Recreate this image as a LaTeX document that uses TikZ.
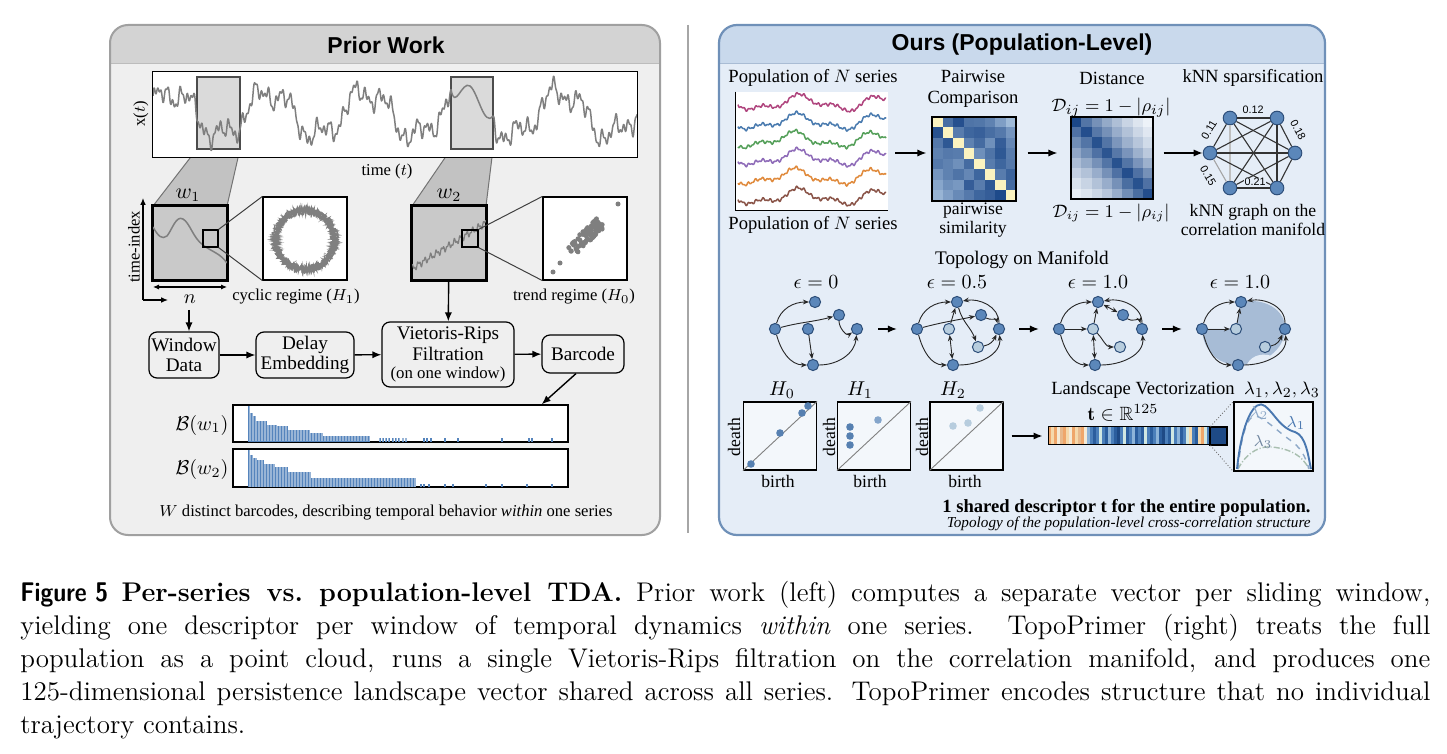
\documentclass[tikz,border=0pt]{standalone}
\usepackage{amsmath,amssymb}
\usepackage{graphicx}
\usepackage{fontspec}
\usetikzlibrary{arrows.meta,calc}
\newfontfamily\hfont{Liberation Sans}
\newfontfamily\sfont{Liberation Serif}
\newcommand{\fsz}[2]{\fontsize{#1}{#2}\selectfont}
\definecolor{lpbg}{HTML}{EFEFEF}
\definecolor{lphead}{HTML}{D3D3D3}
\definecolor{lpborder}{HTML}{A0A0A0}
\definecolor{rpbg}{HTML}{E5EDF7}
\definecolor{rphead}{HTML}{C9D9EC}
\definecolor{rpborder}{HTML}{6F90B8}
\definecolor{winfill}{HTML}{DADADA}
\definecolor{trapfill}{HTML}{C2C2C2}
\definecolor{wboxfill}{HTML}{C9C9C9}
\definecolor{siggray}{HTML}{7F7F7F}
\definecolor{barblue}{HTML}{5584BC}
\definecolor{nblue}{HTML}{5B87BA}
\definecolor{nedge}{HTML}{2E4F7A}
\definecolor{nlight}{HTML}{B7CDDE}
\definecolor{shadeblue}{HTML}{A7BCD6}
\definecolor{mD}{HTML}{1B4788}
\definecolor{mL}{HTML}{BCD3EA}
\definecolor{mW}{HTML}{F3F7FB}
\definecolor{myel}{HTML}{FBF3C0}
\definecolor{vo}{HTML}{EFA66A}
\definecolor{vb}{HTML}{F5D9AC}
\definecolor{vp}{HTML}{F4EAD6}
\definecolor{vs}{HTML}{E8B98C}
\definecolor{vd}{HTML}{2B5E9E}
\definecolor{vm}{HTML}{4B7FBA}
\definecolor{vl}{HTML}{8DB4D9}
\definecolor{vc}{HTML}{D0E7E2}
\definecolor{vn}{HTML}{1E4A86}
\definecolor{sA}{HTML}{B0457E}
\definecolor{sB}{HTML}{4A7BAF}
\definecolor{sC}{HTML}{55A05A}
\definecolor{sD}{HTML}{8E6BB8}
\definecolor{sE}{HTML}{E08A3C}
\definecolor{sF}{HTML}{8A5448}
\definecolor{lamA}{HTML}{4A78B0}
\definecolor{lamB}{HTML}{8EA9C8}
\definecolor{lamC}{HTML}{A9BFB0}
\tikzset{
  lab/.style={font=\sfont\fsz{8.3}{9.5}, inner sep=0.5pt},
  hdr/.style={font=\sfont\fsz{9.3}{10.4}, inner sep=0.5pt, align=center},
  sub/.style={font=\sfont\fsz{8.8}{9.8}, inner sep=0.5pt, align=center},
  flowbox/.style={draw, rounded corners=4pt, fill=lpbg, align=center, font=\sfont\fsz{9.6}{10.2}, inner sep=1pt, line width=0.6pt},
  arr/.style={-{Latex[length=4.5pt,width=3.6pt]}, line width=0.7pt},
  sarr/.style={-{Latex[length=3.4pt,width=2.8pt]}, line width=0.6pt},
  garr/.style={-{Stealth[length=3pt,width=2.4pt]}, line width=0.45pt, draw=black!85},
  gdbl/.style={{Stealth[length=3pt,width=2.4pt]}-{Stealth[length=3pt,width=2.4pt]}, line width=0.45pt, draw=black!85},
  gdark/.style={circle, draw=nedge, fill=nblue, line width=0.5pt, minimum size=5.6pt, inner sep=0pt},
  glight/.style={gdark, fill=nlight},
  knode/.style={circle, draw=nedge, fill=nblue, line width=0.5pt, minimum size=6.8pt, inner sep=0pt},
  kedge/.style={line width=0.55pt, draw=black!80},
  klab/.style={font=\hfont\fsz{5.4}{6}, inner sep=0.2pt},
  pdbox/.style={draw, line width=0.6pt, fill=white!55!rpbg, minimum width=36.5pt, minimum height=34pt, inner sep=0pt},
  pdpt/.style={fill=nblue!95!black},
  sig/.style={siggray, line width=0.75pt, line join=round},
  zbox/.style={draw, line width=0.6pt, fill=white, inner sep=0pt},
  wbox/.style={draw, line width=1.1pt, fill=wboxfill, inner sep=0pt, minimum size=37pt},
  bcbox/.style={draw, line width=0.7pt, inner sep=0pt, minimum width=167.5pt, minimum height=18.5pt}
}
\begin{document}
\begin{tikzpicture}[x=0.5pt,y=-0.5pt,
  declare function={sig(\t)=114-(22*sin(3.7*(\t-153)+20)+9*sin(11*(\t-153)+40)+6*sin(29*(\t-153)+10)+4*sin(52.94*mod(\t-153,6.8)+70)+3*sin(97.3*mod(\t-153,3.7)));}]
\fill[white] (0,0) rectangle (1447,754);
\useasboundingbox (0,0) rectangle (1447,754);

%================ LEFT PANEL =================
\begin{scope}
\clip[rounded corners=9] (110,25) rectangle (660,535);
\fill[lpbg] (110,25) rectangle (660,535);
\fill[lphead] (110,25) rectangle (660,63);
\draw[lpborder!70, line width=0.4pt] (110,63) -- (660,63);
\end{scope}
\draw[lpborder, line width=1pt, rounded corners=9] (110,25) rectangle (660,535);
\node[font=\hfont\bfseries\fsz{11.5}{13}] (ltitle) at (386,45) {Prior Work};

% separator
\draw[black!35, line width=0.8pt] (688,25) -- (688,533);

% trapezoids
\fill[trapfill] (197,149) -- (240,149) -- (227,206) -- (153,206) -- cycle;
\draw[black!55, line width=0.5pt] (197,149) -- (153,206) (240,149) -- (227,206);
\fill[trapfill] (451,149) -- (493,149) -- (486,206) -- (412,206) -- cycle;
\draw[black!55, line width=0.5pt] (451,149) -- (412,206) (493,149) -- (486,206);

% time series
\node[fill=white, minimum width=242pt, minimum height=42.5pt, inner sep=0] (ts) at (395,114.5) {};
\fill[winfill] (197,77) rectangle (240,149);
\fill[winfill] (451,77) rectangle (493,149);
\draw[black!70, line width=0.6pt] (197,77) rectangle (240,149);
\draw[black!70, line width=0.6pt] (451,77) rectangle (493,149);
\pgfmathsetmacro\ya{sig(451)}
\pgfmathsetmacro\yb{sig(493)}
\begin{scope}
\clip (153,74) rectangle (637,155);
\draw[sig] plot[variable=\t,domain=153:451,samples=597] (\t,{sig(\t)});
\draw[sig] (451,\ya) .. controls (455,112) and (462,80) .. (470,86) .. controls (478,92) and (484,128) .. (493,\yb);
\draw[sig] plot[variable=\t,domain=493:637,samples=289] (\t,{sig(\t)});
\end{scope}
\draw[line width=0.7pt] (ts.north west) rectangle (ts.south east);
\node[lab, rotate=90] (xt) at (141,114) {x($t$)};
\node[lab] (tt) at (387,172) {time ($t$)};

% window 1
\node[wbox] (w1b) at (190,243) {};
\begin{scope}
\clip (153,206) rectangle (227,280);
\draw[sig] (153,227) .. controls (158,236) and (162,240) .. (167,236) .. controls (172,230) and (176,215) .. (183,219) .. controls (190,223) and (193,238) .. (203,245) .. controls (212,252) and (220,253) .. (227,263);
\end{scope}
\draw[line width=1.1pt] (w1b.north west) rectangle (w1b.south east);
\node[font=\fsz{10.5}{11}, inner sep=0] (w1l) at (188,195) {$w_1$};
\node[draw, line width=0.6pt, minimum width=7.5pt, minimum height=8.5pt, inner sep=0] (sq1) at (210.5,238.5) {};
\node[zbox, minimum width=42pt, minimum height=41.5pt] (z1) at (305,238.5) {};
\draw[black!75, line width=0.5pt] (sq1.north east) -- (z1.north west) (sq1.south east) -- (z1.south west);
\pgfmathsetseed{7}
\foreach \k in {1,...,6}{
  \draw[siggray, line width=0.5pt] plot[variable=\a, domain=0:360, samples=240] ({305+(29.5+4.5*rand)*cos(\a)},{240+(29.5+4.5*rand)*sin(\a)});
}
\node[lab] (cyc) at (296,297) {cyclic regime ($H_1$)};

% axes for window 1
\coordinate (ax0) at (143,300);
\coordinate (axT) at (143,198);
\coordinate (axR) at (168,300);
\draw[sarr] (ax0) -- (axT);
\draw[sarr] (ax0) -- (axR);
\node[lab, rotate=90] (tix) at (134,247) {time-index};
\coordinate (nL) at (153,287);
\coordinate (nR) at (227,287);
\draw[{Latex[length=3pt,width=2.6pt]}-{Latex[length=3pt,width=2.6pt]}, line width=0.55pt] (nL) -- (nR);
\node[font=\fsz{10}{11}, inner sep=0] (nlab) at (190,299) {$n$};

% window 2
\node[wbox] (w2b) at (449,243) {};
\begin{scope}
\clip (412,206) rectangle (486,280);
\draw[sig, line width=0.6pt] plot[variable=\t,domain=412:486,samples=220] (\t,{268-(\t-413)*0.62+2.5*sin(60*mod(\t,6))+1.6*sin(136.9*mod(\t,2.63))});
\end{scope}
\draw[line width=1.1pt] (w2b.north west) rectangle (w2b.south east);
\node[font=\fsz{10.5}{11}, inner sep=0] (w2l) at (449,195) {$w_2$};
\node[draw, line width=0.6pt, minimum width=8pt, minimum height=8.5pt, inner sep=0] (sq2) at (470,238.5) {};
\node[zbox, minimum width=42pt, minimum height=41.5pt] (z2) at (585,238.5) {};
\draw[black!75, line width=0.5pt] (sq2.north east) -- (z2.north west) (sq2.south east) -- (z2.south west);
\pgfmathsetseed{11}
\foreach \i in {1,...,85}{
  \pgfmathsetmacro\u{rand*15}\pgfmathsetmacro\w{rand*6}
  \fill[siggray] ({586+\u+0.7*\w},{237-\u*0.95+0.75*\w}) circle (1.25pt);
}
\fill[siggray] (553,272) circle (1.25pt) (560,263) circle (1.25pt) (618,204) circle (1.25pt);
\node[lab] (trd) at (574,297) {trend regime ($H_0$)};

% flow boxes
\node[flowbox, minimum width=35pt, minimum height=23pt] (wd) at (184,355) {Window\\Data};
\node[flowbox, minimum width=49pt, minimum height=23pt] (de) at (305,355) {Delay\\Embedding};
\node[flowbox, minimum width=66pt, minimum height=32.5pt] (vr) at (448,354.5) {Vietoris-Rips\\Filtration\\[-1pt]{\fsz{8.4}{9}(on one window)}};
\node[flowbox, minimum width=41pt, minimum height=19pt] (bc) at (583,354) {Barcode};
\coordinate (na) at (189,310);
\draw[arr] (na) -- (na |- wd.north);
\draw[arr] (w2b) -- (vr);
\draw[arr] (wd) -- (de);
\draw[arr] (de) -- (vr);
\draw[arr] (vr) -- (bc);

% barcodes
\node[bcbox, fill=white] (b1) at (400.5,423.5) {};
\node[bcbox, fill=white] (b2) at (400.5,468) {};
\draw[arr] ([xshift=-3.5pt]bc.south) -- ([xshift=-13.5pt]b1.north east);
\foreach \a/\b/\h in {248/250/36, 250/253/29, 253/256/26, 256/267/21, 267/277/17, 277/288/15.5, 288/310/12.3, 310/323/9, 323/370/5.7}{
  \fill[barblue] (\a,442) rectangle (\b,{442-\h});
}
\foreach \x in {379,382,385,388,392,395,398,402,405,423,426,430,444,457,501,528,531,551}{
  \fill[barblue] (\x,442) rectangle ++(1.5,-4);
}
\foreach \a/\b/\h in {248/250/37, 250/253/32, 253/257/29, 257/264/27, 264/275/23, 275/288/20, 288/311/15, 311/416/9.3}{
  \fill[barblue] (\a,487) rectangle (\b,{487-\h});
}
\foreach \x in {420,423,428,444,452,485,501,526,551}{
  \fill[barblue] (\x,487) rectangle ++(1.5,-3.5);
}
\foreach \x in {248.7,250.2,...,416}{
  \draw[white, opacity=0.4, line width=0.2pt] (\x,406) -- (\x,441.5) (\x,450) -- (\x,486.5);
}
\draw[line width=0.7pt] (b1.north west) rectangle (b1.south east);
\draw[line width=0.7pt] (b2.north west) rectangle (b2.south east);
\node[font=\fsz{10}{11}, inner sep=0] (b1l) at (202,425) {$\mathcal{B}(w_1)$};
\node[font=\fsz{10}{11}, inner sep=0] (b2l) at (202,469) {$\mathcal{B}(w_2)$};
\node[font=\sfont\fsz{8.3}{9.5}, inner sep=0] (lfoot) at (386,513) {$W$ distinct barcodes, describing temporal behavior \emph{within} one series};

%================ RIGHT PANEL =================
\begin{scope}
\clip[rounded corners=9] (719,25) rectangle (1325,535);
\fill[rpbg] (719,25) rectangle (1325,535);
\fill[rphead] (719,25) rectangle (1325,63);
\draw[rpborder!60, line width=0.4pt] (719,63) -- (1325,63);
\end{scope}
\draw[rpborder, line width=1.1pt, rounded corners=9] (719,25) rectangle (1325,535);
\node[font=\hfont\bfseries\fsz{11.5}{13}] (rtitle) at (1022,45) {Ours (Population-Level)};

% population plot
\node[hdr] (popT) at (813,78) {Population of $N$ series};
\node[fill=white, minimum width=76pt, minimum height=59pt, inner sep=0] (pp) at (812,151) {};
\foreach \yy/\cc/\ph in {103/sA/0, 122/sB/15, 140/sC/30, 158/sD/10, 177/sE/25, 197/sF/5}{
  \draw[\cc, line width=0.75pt, line join=round] plot[variable=\t, domain=738:886, samples=200]
   (\t,{\yy+6*sin(4.3*(\t-738)+\ph)+3.2*sin(10*(\t-738)+30+\ph)+1.1*sin(53*(\t-738)+\ph*3)+0.8*sin(97*(\t-738))});
}
\draw[line width=0.7pt] (pp.north west) -- (pp.south west) -- (pp.south east);
\node[hdr] (popB) at (813,225) {Population of $N$ series};
\coordinate (ay) at (0,153);

% similarity matrix
\node[hdr] (pwT) at (973,89) {Pairwise\\Comparison};
\foreach \r/\row in {0/{-1,72,94,68,66,58,38,18},1/{92,-1,62,78,82,72,64,44},2/{64,88,-1,58,74,48,84,54},3/{58,64,62,-1,48,68,88,62},4/{64,58,48,74,-1,62,78,64},5/{44,58,68,54,78,-1,62,80},6/{32,48,42,84,62,88,-1,74},7/{22,38,52,64,78,84,98,-1}}{
  \foreach \v [count=\c from 0] in \row {
    \ifnum\v<0 \fill[myel] ({932+\c*10.5},{117+\r*10.5}) rectangle +(10.5,10.5);
    \else \fill[mD!\v!mL] ({932+\c*10.5},{117+\r*10.5}) rectangle +(10.5,10.5); \fi
  }
}
\node[draw, line width=0.6pt, minimum size=42pt, inner sep=0] (m1) at (974,159) {};
\node[sub] (pwB) at (973,220) {pairwise\\similarity};

% distance matrix
\node[hdr] (dT) at (1112,78) {Distance};
\node[hdr] (dF) at (1111,108) {$\mathcal{D}_{ij}=1-|\rho_{ij}|$};
\foreach \r/\row in {0/{100,74,58,44,32,20,10,3},1/{76,96,72,58,42,30,18,9},2/{60,74,94,74,55,40,28,16},3/{46,60,76,92,72,56,40,26},4/{33,44,58,74,94,74,56,40},5/{22,30,42,58,76,96,76,58},6/{12,20,30,42,58,78,94,76},7/{5,10,18,28,42,60,78,96}}{
  \foreach \v [count=\c from 0] in \row {
    \fill[mD!\v!mW] ({1071+\c*10.25},{117+\r*10.25}) rectangle +(10.25,10.25);
  }
}
\node[draw, line width=0.6pt, minimum size=41pt, inner sep=0] (m2) at (1112,158) {};
\node[sub] (dB) at (1111,213) {$\mathcal{D}_{ij}=1-|\rho_{ij}|$};

% kNN graph
\node[hdr] (kT) at (1253,78) {kNN sparsification};
\node[knode] (k1) at (1230,118) {};
\node[knode] (k2) at (1277,118) {};
\node[knode] (k3) at (1210,153) {};
\node[knode] (k4) at (1295,153) {};
\node[knode] (k5) at (1230,188) {};
\node[knode] (k6) at (1277,188) {};
\draw[kedge] (k1) -- (k2);
\draw[kedge] (k1) -- (k3);
\draw[kedge] (k1) -- (k4);
\draw[kedge, draw=black!25] (k1) -- (k5);
\draw[kedge] (k1) -- (k6);
\draw[kedge] (k2) -- (k3);
\draw[kedge] (k2) -- (k4);
\draw[kedge] (k2) -- (k5);
\draw[kedge] (k2) -- (k6);
\draw[kedge] (k3) -- (k4);
\draw[kedge, draw=black!35] (k3) -- (k5);
\draw[kedge] (k3) -- (k6);
\draw[kedge] (k4) -- (k5);
\draw[kedge] (k4) -- (k6);
\draw[kedge] (k5) -- (k6);
\node[klab] (l12) at (1253,110) {0.12};
\node[klab, rotate=-62] (l18) at (1298,130) {0.18};
\node[klab, rotate=60] (l11) at (1209,130) {0.11};
\node[klab, rotate=-60] (l15) at (1208,176) {0.15};
\node[klab, fill=rpbg] (l21) at (1255,182) {0.21};
\node[sub] (kB) at (1253,220) {kNN graph on the\\correlation manifold};

\draw[arr] ([xshift=3.5pt]pp.east |- ay) -- ([xshift=-2.5pt]m1.west |- ay);
\draw[arr] ([xshift=5.5pt]m1.east |- ay) -- ([xshift=-6.5pt]m2.west |- ay);
\draw[arr] ([xshift=5pt]m2.east |- ay) -- (k3);

% topology
\node[hdr, font=\sfont\fsz{9.6}{10.5}] (topo) at (1022,260) {Topology on Manifold};
\node[hdr, font=\fsz{9.6}{10.5}] (e1) at (816,282) {$\epsilon=0$};
\node[hdr, font=\fsz{9.6}{10.5}] (e2) at (957,282) {$\epsilon=0.5$};
\node[hdr, font=\fsz{9.6}{10.5}] (e3) at (1098,282) {$\epsilon=1.0$};
\node[hdr, font=\fsz{9.6}{10.5}] (e4) at (1240,282) {$\epsilon=1.0$};

% graph 1
\begin{scope}[shift={(775,0)}]
\node[gdark] (g1L) at (0,329) {};
\node[gdark] (g1T) at (40,302) {};
\node[gdark] (g1N) at (64,315) {};
\node[gdark] (g1C) at (33,329) {};
\node[gdark] (g1R) at (82,329) {};
\node[gdark] (g1B) at (38,365) {};
\draw[garr] (g1L) to[out=75,in=180] (g1T);
\draw[garr] (g1L) to[out=15,in=195] (g1N);
\draw[garr] (g1L) to[out=-75,in=180] (g1B);
\draw[garr] (g1C) -- (g1B);
\draw[garr] (g1N) to[out=-90,in=215] (g1R);
\draw[garr] (g1B) to[out=0,in=-95] (g1R);
\end{scope}
% graph 2
\begin{scope}[shift={(917,0)}]
\node[gdark] (g2L) at (0,329) {};
\node[gdark] (g2T) at (40,302) {};
\node[gdark] (g2N) at (64,315) {};
\node[glight] (g2C) at (32,329) {};
\node[gdark] (g2R) at (82,329) {};
\node[glight] (g2Q) at (61,347) {};
\node[gdark] (g2B) at (36,365) {};
\draw[garr] (g2L) to[out=75,in=180] (g2T);
\draw[garr] (g2L) to[out=15,in=192] (g2N);
\draw[garr] (g2L) to[out=-75,in=180] (g2B);
\draw[garr] (g2R) to[out=90,in=10] (g2T);
\draw[garr] (g2C) -- (g2T);
\draw[gdbl] (g2C) -- (g2B);
\draw[garr] (g2T) to[out=-75,in=110] (g2Q);
\draw[garr] (g2N) to[out=-30,in=105] (g2R);
\draw[garr] (g2Q) to[out=10,in=-115] (g2R);
\draw[garr] (g2B) to[out=0,in=-85] (g2R);
\end{scope}
% graph 3
\begin{scope}[shift={(1059,0)}]
\node[gdark] (g3L) at (0,329) {};
\node[gdark] (g3T) at (39,302) {};
\node[gdark] (g3N) at (64,315) {};
\node[glight] (g3C) at (34,329) {};
\node[gdark] (g3R) at (83,329) {};
\node[glight] (g3Q) at (61,347) {};
\node[gdark] (g3B) at (36,365) {};
\draw[garr] (g3L) to[out=75,in=180] (g3T);
\draw[garr] (g3L) -- (g3C);
\draw[garr] (g3L) to[out=-75,in=180] (g3B);
\draw[garr] (g3C) -- (g3T);
\draw[gdbl] (g3T) -- (g3N);
\draw[garr] (g3R) to[out=90,in=10] (g3T);
\draw[garr] (g3N) to[out=-40,in=105] (g3R);
\draw[garr] (g3C) to[out=-45,in=180] (g3Q);
\draw[gdbl] (g3C) -- (g3B);
\draw[garr] (g3B) to[out=0,in=-85] (g3R);
\end{scope}
% graph 4
\begin{scope}[shift={(1202,0)}]
\fill[shadeblue] (0,329) -- (34,329) -- (39,302) .. controls (62,297) and (84,310) .. (83,329) .. controls (83,350) and (60,366) .. (37,365) .. controls (15,365) and (1,350) .. (0,329) -- cycle;
\fill[rpbg] (44,367) .. controls (47,357) and (58,352) .. (70,356) .. controls (68,363) and (58,369) .. (44,367) -- cycle;
\node[gdark] (g4L) at (0,329) {};
\node[gdark] (g4T) at (39,302) {};
\node[glight] (g4C) at (34,329) {};
\node[gdark] (g4R) at (83,329) {};
\node[glight] (g4Q) at (63,347) {};
\node[gdark] (g4B) at (36,365) {};
\draw[garr] (g4L) to[out=75,in=180] (g4T);
\draw[garr] (g4L) -- (g4C);
\draw[garr] (g4L) to[out=-75,in=180] (g4B);
\draw[garr] (g4C) -- (g4T);
\draw[garr] (g4R) to[out=90,in=10] (g4T);
\draw[garr] (g4Q) to[out=10,in=-115] (g4R);
\draw[garr] (g4B) to[out=0,in=-85] (g4R);
\end{scope}
\draw[arr, shorten <=7.5pt, shorten >=7pt] (g1R) -- (g2L);
\draw[arr, shorten <=7pt, shorten >=7pt] (g2R) -- (g3L);
\draw[arr, shorten <=7pt, shorten >=7pt] (g3R) -- (g4L);

% persistence diagrams
\node[font=\fsz{10}{11}, inner sep=0] (h0l) at (782,390) {$H_0$};
\node[font=\fsz{10}{11}, inner sep=0] (h1l) at (860,390) {$H_1$};
\node[font=\fsz{10}{11}, inner sep=0] (h2l) at (953,390) {$H_2$};
\node[pdbox] (pd0) at (780,436) {};
\node[pdbox] (pd1) at (874,436) {};
\node[pdbox] (pd2) at (966.5,436) {};
\draw[black!50, line width=0.45pt] (pd0.south west) -- (pd0.north east);
\draw[black!50, line width=0.45pt] (pd1.south west) -- (pd1.north east);
\draw[black!50, line width=0.45pt] (pd2.south west) -- (pd2.north east);
\fill[pdpt] (751,464) circle (1.9pt) (780,433) circle (1.9pt) (802,413) circle (1.9pt) (808,406) circle (1.9pt);
\fill[pdpt] (850,427) circle (1.9pt) (850,436) circle (1.9pt) (850,445) circle (1.9pt);
\fill[nblue!75!white] (878,420) circle (1.9pt);
\fill[nlight] (953,426) circle (1.9pt) (968,423) circle (1.9pt) (980,408) circle (1.9pt);
\node[lab, font=\sfont\fsz{8.8}{9.5}, rotate=90] (d0) at (734,437) {death};
\node[lab, font=\sfont\fsz{8.8}{9.5}, rotate=90] (d1) at (829,437) {death};
\node[lab, font=\sfont\fsz{8.8}{9.5}, rotate=90] (d2) at (922,437) {death};
\node[lab, font=\sfont\fsz{8.8}{9.5}] (bi0) at (778,481) {birth};
\node[lab, font=\sfont\fsz{8.8}{9.5}] (bi1) at (870,481) {birth};
\node[lab, font=\sfont\fsz{8.8}{9.5}] (bi2) at (965,481) {birth};

% vector
\node[hdr] (lvT) at (1143,390) {Landscape Vectorization};
\node[font=\fsz{9.4}{10}, inner sep=0] (lams) at (1282,390) {$\lambda_1,\lambda_2,\lambda_3$};
\node[font=\fsz{9.6}{10}, inner sep=0] (tR) at (1123,413) {$\mathbf{t}\in\mathbb{R}^{125}$};
\foreach \cc [count=\i from 0] in {o,b,o,p,s,o,b,p,o,b,s,o,p,l,m,d,m,c,m,d,l,m,d,n,m,c,d,m,l,d,m,d,c,m,d,m,l,d,n,m,d,c,m,l,d,m,c,b,m,d,b,o,c,m}{
  \fill[v\cc] ({1048+\i*3},427) rectangle ++(3,18);
}
\fill[vn] (1210,427) rectangle (1227,445);
\node[draw, line width=0.5pt, minimum width=89.5pt, minimum height=9pt, inner sep=0] (vec) at (1137.5,436) {};
\draw[line width=0.9pt] (1210,427) rectangle (1227,445);
\draw[arr] ([xshift=4pt]pd2.east) -- ([xshift=-2.5pt]vec.west);

% landscape
\node[draw, line width=0.6pt, fill=white!55!rpbg, minimum width=39.5pt, minimum height=34.5pt, inner sep=0] (ls) at (1273.5,436.5) {};
\draw[black!55, densely dotted, line width=0.45pt] ([xshift=-8.5pt]vec.north east) -- (ls.north west);
\draw[black!55, densely dotted, line width=0.45pt] ([xshift=-8.5pt]vec.south east) -- (ls.south west);
\draw[lamC, line width=0.7pt, dash pattern=on 3pt off 1pt on 0.6pt off 1pt] (1238,469) .. controls (1248,450) and (1262,446) .. (1272,447) .. controls (1290,449) and (1302,455) .. (1309,469);
\draw[lamB, line width=0.7pt, dashed] (1238,469) .. controls (1241,435) and (1248,414) .. (1256,416) .. controls (1266,419) and (1276,430) .. (1290,440) .. controls (1300,447) and (1305,455) .. (1309,469);
\draw[lamA, line width=0.95pt] (1237,469) .. controls (1242,420) and (1255,398) .. (1265,406) .. controls (1275,414) and (1280,428) .. (1295,432) .. controls (1306,436) and (1308,455) .. (1311,469);
\node[font=\fsz{8.5}{9}, text=lamB, inner sep=0] (la2) at (1259,413) {$\lambda_2$};
\node[font=\fsz{8.5}{9}, text=lamA, inner sep=0] (la1) at (1296,423) {$\lambda_1$};
\node[font=\fsz{8.5}{9}, text=lamB!80!black, inner sep=0] (la3) at (1263,442) {$\lambda_3$};

\node[anchor=east, font=\sfont\bfseries\fsz{9.3}{10}, inner sep=0] (shared) at (1311,508) {1 shared descriptor t for the entire population.};
\node[anchor=east, font=\sfont\itshape\fsz{7.6}{8}, inner sep=0] (topot) at (1311,524) {Topology of the population-level cross-correlation structure};

%================ CAPTION =================
\node[anchor=north west, text width=705pt, align=justify, inner sep=0, font=\fsz{13.5}{16.5}] (cap) at (20,581) {%
\scalebox{0.86}[1]{\sffamily\bfseries Figure 5}\enspace\textbf{Per-series vs.\ population-level TDA.} Prior work (left) computes a separate vector per sliding window,\linebreak
yielding one descriptor per window of temporal dynamics \emph{within} one series.\ \ TopoPrimer (right) treats the full\linebreak
population as a point cloud, runs a single Vietoris-Rips filtration on the correlation manifold, and produces one\linebreak
125-dimensional persistence landscape vector shared across all series. TopoPrimer encodes structure that no individual\linebreak
trajectory contains.};
\end{tikzpicture}
\end{document}
